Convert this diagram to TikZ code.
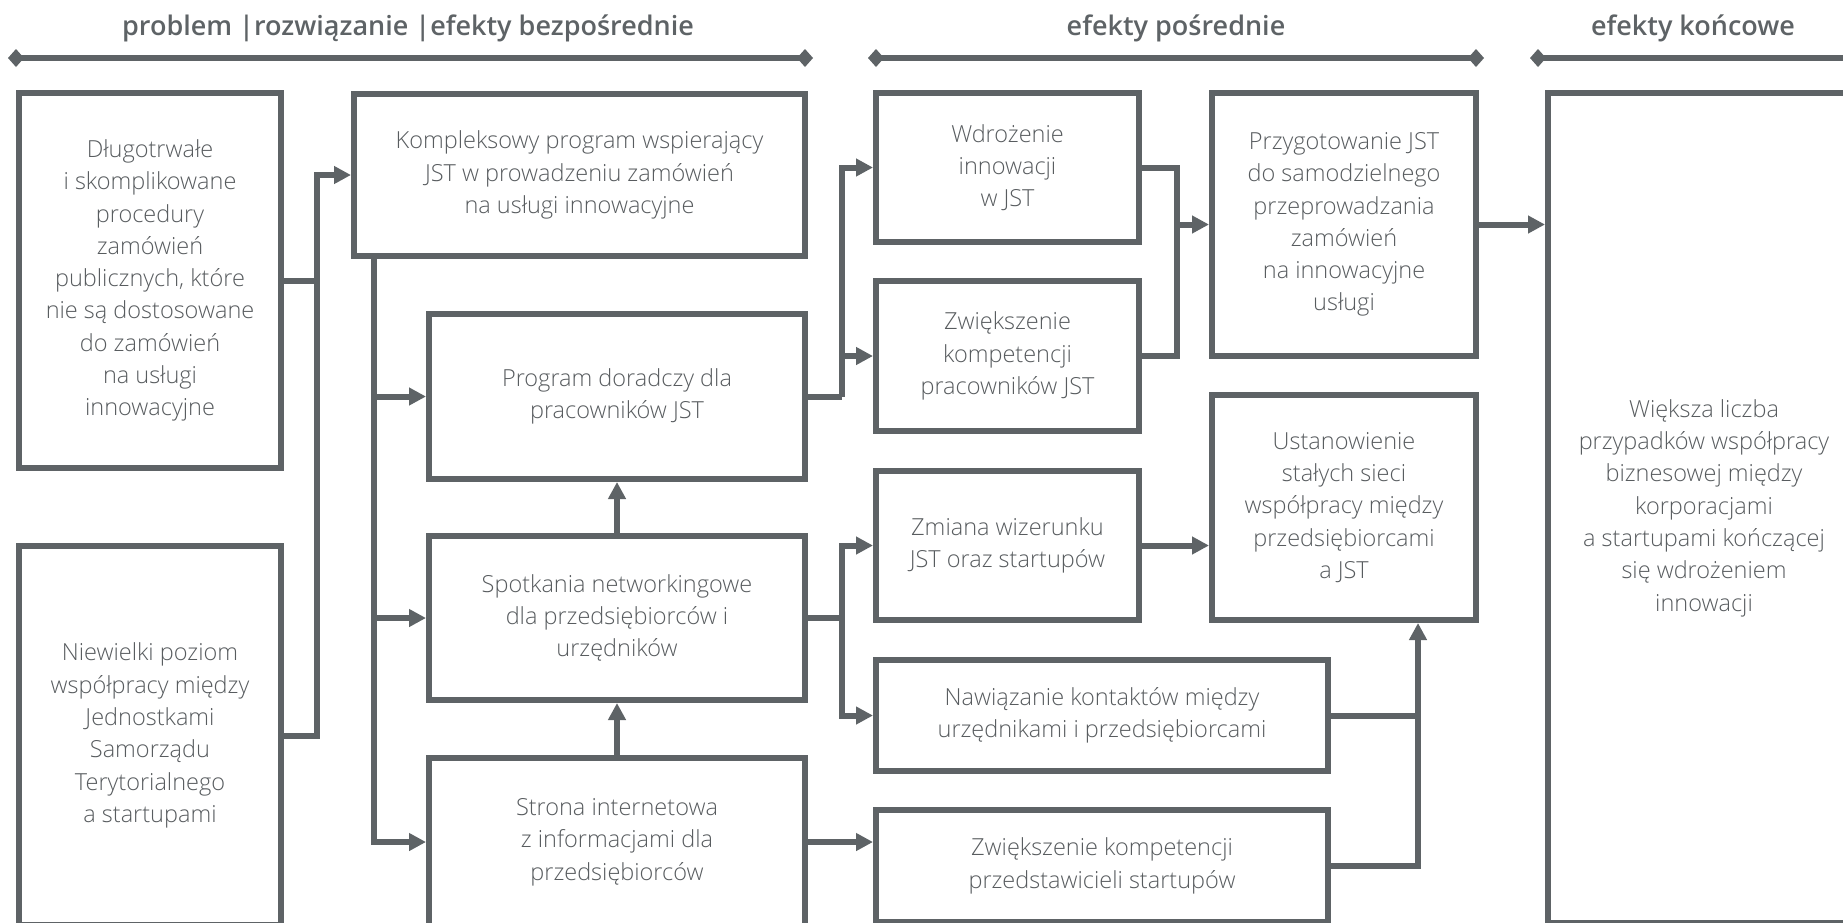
\documentclass[tikz,border=0pt]{standalone}
\usepackage{fontspec}
\usetikzlibrary{arrows.meta}
\IfFontExistsTF{Open Sans Light}{\newfontfamily\bodyfont{Open Sans Light}}{\newfontfamily\bodyfont{Open Sans}}
\IfFontExistsTF{Open Sans Semibold}{\newfontfamily\headfont{Open Sans Semibold}}{\newfontfamily\headfont{Open Sans}[UprightFont=*-Bold]}
\definecolor{linegray}{RGB}{94,99,102}
\definecolor{textgray}{RGB}{88,92,95}
\tikzset{
  box/.style={draw=linegray, line width=6pt, fill=white, align=center, inner sep=0pt,
    text=textgray, font=\bodyfont\fontsize{23.5pt}{32.3pt}\selectfont},
  ln/.style={draw=linegray, line width=6pt},
  arr/.style={ln, -{Triangle[length=17pt,width=17pt]}},
  hline/.style={ln, {Diamond[length=16pt,width=18pt]}-{Diamond[length=16pt,width=18pt]}},
  head/.style={text=linegray, anchor=base, inner sep=0pt, font=\headfont\fontsize{27pt}{30pt}\selectfont},
}
\begin{document}
\begin{tikzpicture}[x=1pt, y=-1pt]
\useasboundingbox (0,0) rectangle (1843,922);
\clip (0,0) rectangle (1843,922);

% column headers
\node[head] (h1) at (408,35) {problem |rozwiązanie |efekty bezpośrednie};
\node[head] (h2) at (1176,35) {efekty pośrednie};
\node[head] (h3) at (1693,35) {efekty końcowe};
\coordinate (l1a) at (8,58);    \coordinate (l1b) at (813,58);
\coordinate (l2a) at (868,58);  \coordinate (l2b) at (1484,58);
\coordinate (l3a) at (1530,58); \coordinate (l3b) at (1900,58);
\draw[hline] (l1a) -- (l1b);
\draw[hline] (l2a) -- (l2b);
\draw[hline] (l3a) -- (l3b);

% problems
\node[box, minimum width=262pt, minimum height=375pt] (A) at (150,280.5)
  {Długotrwałe\\i skomplikowane\\procedury\\zamówień\\publicznych, które\\nie są dostosowane\\do zamówień\\na usługi\\innowacyjne};
\node[box, minimum width=262pt, minimum height=379pt] (B) at (150,735.5)
  {Niewielki poziom\\współpracy między\\Jednostkami\\Samorządu\\Terytorialnego\\a startupami};

% solution and direct effects
\node[box, minimum width=451pt, minimum height=162pt] (C) at (579.5,175)
  {Kompleksowy program wspierający\\JST w prowadzeniu zamówień\\na usługi innowacyjne};
\node[box, minimum width=376pt, minimum height=165pt] (D) at (617,396.5)
  {Program doradczy dla\\pracowników JST};
\node[box, minimum width=376pt, minimum height=164pt] (E) at (617,618)
  {Spotkania networkingowe\\dla przedsiębiorców i\\urzędników};
\node[box, minimum width=376pt, minimum height=168pt] (F) at (617,842)
  {Strona internetowa\\z informacjami dla\\przedsiębiorców};

% intermediate effects
\node[box, minimum width=263pt, minimum height=149pt] (G) at (1007.5,167.5)
  {Wdrożenie\\innowacji\\w JST};
\node[box, minimum width=263pt, minimum height=150pt] (H) at (1007.5,356)
  {Zwiększenie\\kompetencji\\pracowników JST};
\node[box, minimum width=263pt, minimum height=149pt] (I) at (1007.5,545.5)
  {Zmiana wizerunku\\JST oraz startupów};
\node[box, minimum width=452pt, minimum height=111pt] (J) at (1102,715.5)
  {Nawiązanie kontaktów między\\urzędnikami i przedsiębiorcami};
\node[box, minimum width=452pt, minimum height=112pt] (K) at (1102,866)
  {Zwiększenie kompetencji\\przedstawicieli startupów};
\node[box, minimum width=264pt, minimum height=263pt] (L) at (1344,224.5)
  {Przygotowanie JST\\do samodzielnego\\przeprowadzania\\zamówień\\na innowacyjne\\usługi};
\node[box, minimum width=264pt, minimum height=225pt] (M) at (1344,507.5)
  {Ustanowienie\\stałych sieci\\współpracy między\\przedsiębiorcami\\a JST};

% final effect
\node[box, minimum width=312pt, minimum height=830pt] (N) at (1704,508)
  {Większa liczba\\przypadków współpracy\\biznesowej między\\korporacjami\\a startupami kończącej\\się wdrożeniem\\innowacji};

% junction points of the connector buses
\coordinate (ab) at (317,280.5);
\coordinate (cb) at (374,256);
\coordinate (db) at (842,396.5);
\coordinate (eb) at (842,618);
\coordinate (gb) at (1177,224.5);
\coordinate (mk) at (1418,866);

% problems -> solution
\draw[arr] (A.east) -- (ab) |- (C.west);
\draw[ln] (B.east) -| (ab);

% solution -> activities
\draw[arr] (cb) |- (D.west);
\draw[arr] (cb) |- (E.west);
\draw[arr] (cb) |- (F.west);
\draw[arr] (E.north) -- (D.south);
\draw[arr] (F.north) -- (E.south);

% activities -> intermediate effects
\draw[ln] (D.east) -- (db);
\draw[arr] (db) |- (G.west);
\draw[arr] (db) |- (H.west);
\draw[ln] (E.east) -- (eb);
\draw[arr] (eb) |- (I.west);
\draw[arr] (eb) |- (J.west);
\draw[arr] (F.east) -- (F.east -| K.west);

% intermediate -> further effects
\draw[ln] (G.east) -| (gb);
\draw[ln] (H.east) -| (gb);
\draw[arr] (gb) -- (L.west);
\draw[arr] (I.east) -- (I.east -| M.west);
\draw[ln] (J.east) -- (J.east -| mk);
\draw[arr] (K.east) -- (mk) -- (mk |- M.south);
\draw[arr] (L.east) -- (L.east -| N.west);
\end{tikzpicture}
\end{document}
